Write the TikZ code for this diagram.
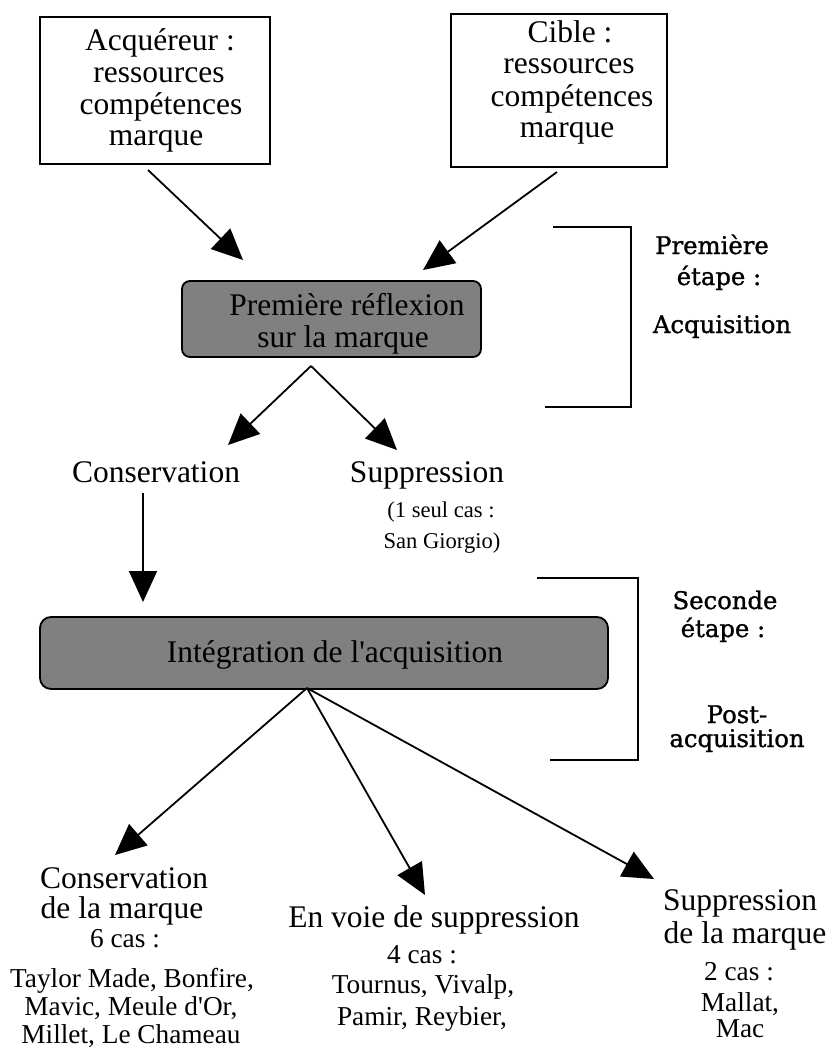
\documentclass[tikz,border=0pt]{standalone}
\usepackage{fontspec}
\setmainfont{Liberation Serif}[Ligatures=TeXOff]
\newfontfamily\stagefont{DejaVu Serif}[FakeBold=1.2]
\usetikzlibrary{arrows.meta}

\begin{document}
\begin{tikzpicture}[x=1pt,y=-1pt,
  big/.style={font=\fontsize{31.5}{32}\selectfont, anchor=base, inner sep=0pt},
  small/.style={font=\fontsize{27.3}{28}\selectfont, anchor=base, inner sep=0pt},
  tiny/.style={font=\fontsize{22.6}{23}\selectfont, anchor=base, inner sep=0pt},
  stage/.style={font=\stagefont\fontsize{24.3}{25}\selectfont, anchor=base, inner sep=0pt},
  whitebox/.style={draw, line width=1.8pt, inner sep=0pt},
  greybox/.style={draw, line width=1.8pt, fill=gray, inner sep=0pt},
  flow/.style={line width=1.8pt, -{Triangle[length=31pt,width=28pt]}},
  bracket/.style={line width=1.8pt}]
\useasboundingbox (0,0) rectangle (831,1050);

% source boxes
\node[whitebox, minimum width=230pt, minimum height=147pt] (acq) at (155,90.5) {};
\node[big] (acq1) at (160,50) {Acquéreur :};
\node[big] (acq2) at (159,82) {ressources};
\node[big] (acq3) at (161,114) {compétences};
\node[big] (acq4) at (156,145) {marque};

\node[whitebox, minimum width=216pt, minimum height=153pt] (cib) at (559,90.5) {};
\node[big] (cib1) at (570,42) {Cible :};
\node[big] (cib2) at (569,73) {ressources};
\node[big] (cib3) at (572,106) {compétences};
\node[big] (cib4) at (567,137) {marque};

% first reflection
\node[greybox, rounded corners=8pt, minimum width=299pt, minimum height=76pt] (refl) at (331.5,319) {};
\node[big] (refl1) at (347,315) {Première réflexion};
\node[big] (refl2) at (343,347) {sur la marque};

\node[big] (cons) at (156,482) {Conservation};
\node[big] (supp) at (427,482) {Suppression};
\node[tiny] (supp1) at (441,517) {(1 seul cas :};
\node[tiny] (supp2) at (442,548) {San Giorgio)};

% integration
\node[greybox, rounded corners=11pt, minimum width=568pt, minimum height=72pt] (integ) at (324,653) {};
\node[big] (integ1) at (335,662) {Intégration de l'acquisition};

% outcomes
\node[big] (oc1) at (124,888) {Conservation};
\node[big] (oc2) at (122,918) {de la marque};
\node[small] (oc3) at (125,947) {6 cas :};
\node[small] (oc4) at (132,987) {Taylor Made, Bonfire,};
\node[small] (oc5) at (131,1015) {Mavic, Meule d'Or,};
\node[small] (oc6) at (131,1043) {Millet, Le Chameau};

\node[big] (ov1) at (434,927) {En voie de suppression};
\node[small] (ov2) at (422,963) {4 cas :};
\node[small] (ov3) at (423,993) {Tournus, Vivalp,};
\node[small] (ov4) at (422,1025) {Pamir, Reybier,};

\node[big] (os1) at (740,910) {Suppression};
\node[big] (os2) at (745,943) {de la marque};
\node[small] (os3) at (739,980) {2 cas :};
\node[small] (os4) at (740,1011) {Mallat,};
\node[small] (os5) at (740,1037) {Mac};

% stage labels
\node[stage] (st1) at (712,254) {Première};
\node[stage] (st2) at (719,285) {étape :};
\node[stage] (st3) at (722,333) {Acquisition};
\node[stage] (st4) at (725,609) {Seconde};
\node[stage] (st5) at (723,637) {étape :};
\node[stage] (st6) at (737,723) {Post-};
\node[stage] (st7) at (737,747) {acquisition};

% connector end points
\coordinate (a1s) at (148,170);  \coordinate (a1e) at (243,260);
\coordinate (a2s) at (557,172);  \coordinate (a2e) at (423,270);
\coordinate (r0)  at (311,366);
\coordinate (a3e) at (228,445);  \coordinate (a4e) at (397,450);
\coordinate (a5s) at (143,493);  \coordinate (a5e) at (143,602);
\coordinate (i0)  at (307,688);
\coordinate (a6e) at (115,855);  \coordinate (a7e) at (425,895);
\coordinate (a8e) at (654,879);

\draw[flow] (a1s) -- (a1e);
\draw[flow] (a2s) -- (a2e);
\draw[flow] (r0) -- (a3e);
\draw[flow] (r0) -- (a4e);
\draw[flow] (a5s) -- (a5e);
\draw[flow] (i0) -- (a6e);
\draw[flow] (i0) -- (a7e);
\draw[flow] (i0) -- (a8e);

% stage brackets
\coordinate (b1a) at (553,227); \coordinate (b1b) at (631,227);
\coordinate (b1c) at (631,407); \coordinate (b1d) at (545,407);
\draw[bracket] (b1a) -- (b1b) -- (b1c) -- (b1d);
\coordinate (b2a) at (537,578); \coordinate (b2b) at (638,578);
\coordinate (b2c) at (638,760); \coordinate (b2d) at (550,760);
\draw[bracket] (b2a) -- (b2b) -- (b2c) -- (b2d);
\end{tikzpicture}
\end{document}
